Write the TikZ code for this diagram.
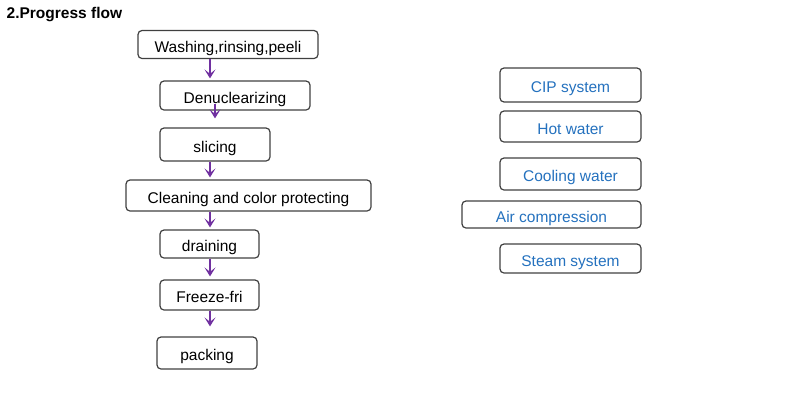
\documentclass[tikz,border=0pt]{standalone}
\usepackage{fontspec}
\setmainfont{Liberation Sans}
\usetikzlibrary{arrows.meta}
\definecolor{flowarrow}{RGB}{112,48,160}
\definecolor{boxline}{RGB}{64,64,64}
\definecolor{utiltext}{RGB}{36,113,190}
\tikzset{
  stepbox/.style={draw=boxline, line width=1.2pt, rounded corners=4pt, inner sep=0pt,
    text height=15.5pt, text depth=0pt, font=\fontsize{15.5}{18}\selectfont},
  utilbox/.style={stepbox, text=utiltext},
  flowarr/.style={draw=flowarrow, line width=1.1pt, -{Stealth[length=9pt,width=11pt,inset=4.5pt]}}
}
\begin{document}
\begin{tikzpicture}[x=1pt,y=-1pt]
\useasboundingbox (0,0) rectangle (787,416);
\node[anchor=base west, inner sep=0pt, font=\fontsize{15.5}{18}\selectfont\bfseries] (title) at (6.5,18.3) {2.Progress flow};
% process steps
\node[stepbox, minimum width=180pt, minimum height=28pt] (s1) at (228,44.5) {Washing,rinsing,peeli};
\node[stepbox, minimum width=150pt, minimum height=29pt] (s2) at (235,95.5) {Denuclearizing};
\node[stepbox, minimum width=110pt, minimum height=33pt] (s3) at (215,144.5) {slicing};
\node[stepbox, minimum width=245pt, minimum height=31pt] (s4) at (248.5,195.5) {Cleaning and color protecting};
\node[stepbox, minimum width=99pt, minimum height=28pt] (s5) at (209.5,244) {draining};
\node[stepbox, minimum width=99pt, minimum height=30pt] (s6) at (209.5,295) {Freeze-fri};
\node[stepbox, minimum width=100pt, minimum height=32pt] (s7) at (207,353) {packing};
% arrow columns
\coordinate (ax) at (210,0);
\coordinate (bx) at (215,0);
\draw[flowarr] (s1.south -| ax) -- ([yshift=2pt]s2.north -| ax);
\draw[flowarr] ([yshift=7pt]s2.south -| bx) -- ([yshift=9pt]s3.north -| bx);
\draw[flowarr] (s3.south -| ax) -- ([yshift=2pt]s4.north -| ax);
\draw[flowarr] (s4.south -| ax) -- ([yshift=2pt]s5.north -| ax);
\draw[flowarr] (s5.south -| ax) -- ([yshift=3pt]s6.north -| ax);
\draw[flowarr] (s6.south -| ax) -- ([yshift=10pt]s7.north -| ax);
% utility boxes
\node[utilbox, minimum width=141pt, minimum height=34pt] (u1) at (570.5,85) {CIP system};
\node[utilbox, minimum width=141pt, minimum height=31pt] (u2) at (570.5,126.5) {Hot water};
\node[utilbox, minimum width=141pt, minimum height=32pt] (u3) at (570.5,174) {Cooling water};
\node[utilbox, minimum width=179pt, minimum height=27pt] (u4) at (551.5,214.5) {Air compression};
\node[utilbox, minimum width=141pt, minimum height=29pt] (u5) at (570.5,258.5) {Steam system};
\end{tikzpicture}
\end{document}
